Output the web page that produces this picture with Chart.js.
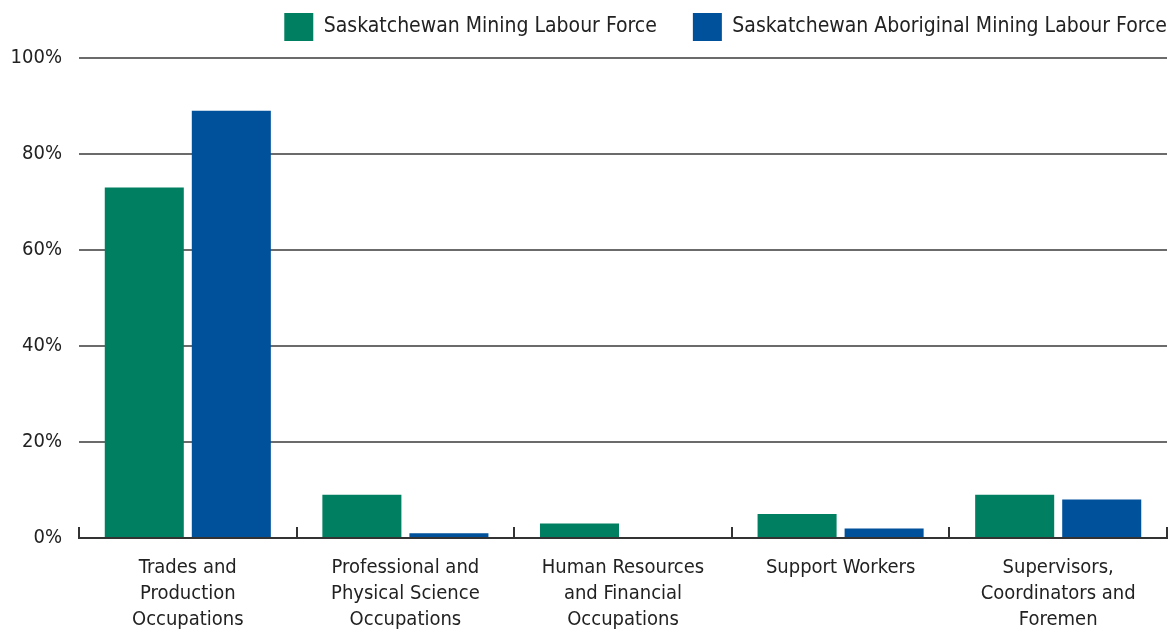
<!DOCTYPE html>
<html>
<head>
<meta charset="utf-8">
<script src="https://cdn.jsdelivr.net/npm/chart.js@4"></script>
<style>
  body { margin: 0; background: #fff; }
  #wrap { width: 1172px; height: 631px; }
</style>
</head>
<body>
<div id="wrap"><canvas id="canvasPanel" width="1172" height="631"></canvas></div>
<script>
var CATEGORIES = [
  ['Trades and', 'Production', 'Occupations'],
  ['Professional and', 'Physical Science', 'Occupations'],
  ['Human Resources', 'and Financial', 'Occupations'],
  ['Support Workers'],
  ['Supervisors,', 'Coordinators and', 'Foremen']
];
var MINING = [73, 9, 3, 5, 9];
var ABORIGINAL = [89, 1, 0, 2, 8];
var Y_TICKS = [0, 20, 40, 60, 80, 100];

var FONT = '"Liberation Sans Narrow", "DejaVu Sans Condensed", "Arial Narrow", sans-serif';

// keep the legend band a fixed height so the plot starts where the original does
var legendHeight = {
  id: 'legendHeight',
  beforeLayout: function (chart) {
    var lg = chart.legend;
    if (lg && !lg._fixed) {
      var fit = lg.fit;
      lg.fit = function () {
        fit.call(this);
        this.height = 45;
      };
      lg._fixed = true;
    }
  }
};

var config = {
  type: 'bar',
  data: {
    labels: CATEGORIES,
    datasets: [{
      label: 'Saskatchewan Mining Labour Force      ',
      backgroundColor: '#008060',
      data: MINING,
      categoryPercentage: 0.8,
      barPercentage: 0.908
    },
    {
      label: 'Saskatchewan Aboriginal Mining Labour Force',
      backgroundColor: '#00519b',
      data: ABORIGINAL,
      categoryPercentage: 0.8,
      barPercentage: 0.908
    }]
  },
  options: {
    responsive: false,
    animation: false,
    layout: { padding: { right: 5, top: 13, left: 0, bottom: 0 } },
    plugins: {
      tooltip: { enabled: false },
      legend: {
        position: 'top',
        align: 'end',
        labels: {
          boxWidth: 29,
          boxHeight: 28,
          padding: 0,
          color: '#222',
          font: { family: FONT, size: 21 }
        }
      }
    },
    scales: {
      x: {
        afterFit: function (axis) { axis.height = 93; },
        grid: {
          drawOnChartArea: false,
          drawTicks: true,
          tickLength: -11,
          color: '#333',
          lineWidth: 2,
          offset: true
        },
        border: { color: '#333', width: 2 },
        ticks: {
          color: '#222',
          padding: 28,
          maxRotation: 0,
          font: { family: FONT, size: 20, lineHeight: 1.3 }
        }
      },
      y: {
        min: 0,
        max: 100,
        afterFit: function (axis) { axis.width = 79; },
        afterBuildTicks: function (axis) {
          axis.ticks = Y_TICKS.map(function (v) { return { value: v }; });
        },
        grid: {
          color: '#6b6b6b',
          lineWidth: 2,
          drawTicks: false
        },
        border: { display: false },
        ticks: {
          color: '#222',
          padding: 17,
          font: { family: FONT, size: 20 },
          callback: function (v) { return v + '%'; }
        }
      }
    }
  },
  plugins: [legendHeight]
};

window.onload = function () {
  var ctx = document.getElementById('canvasPanel').getContext('2d');
  window.myBar = new Chart(ctx, config);
};
</script>
</body>
</html>
